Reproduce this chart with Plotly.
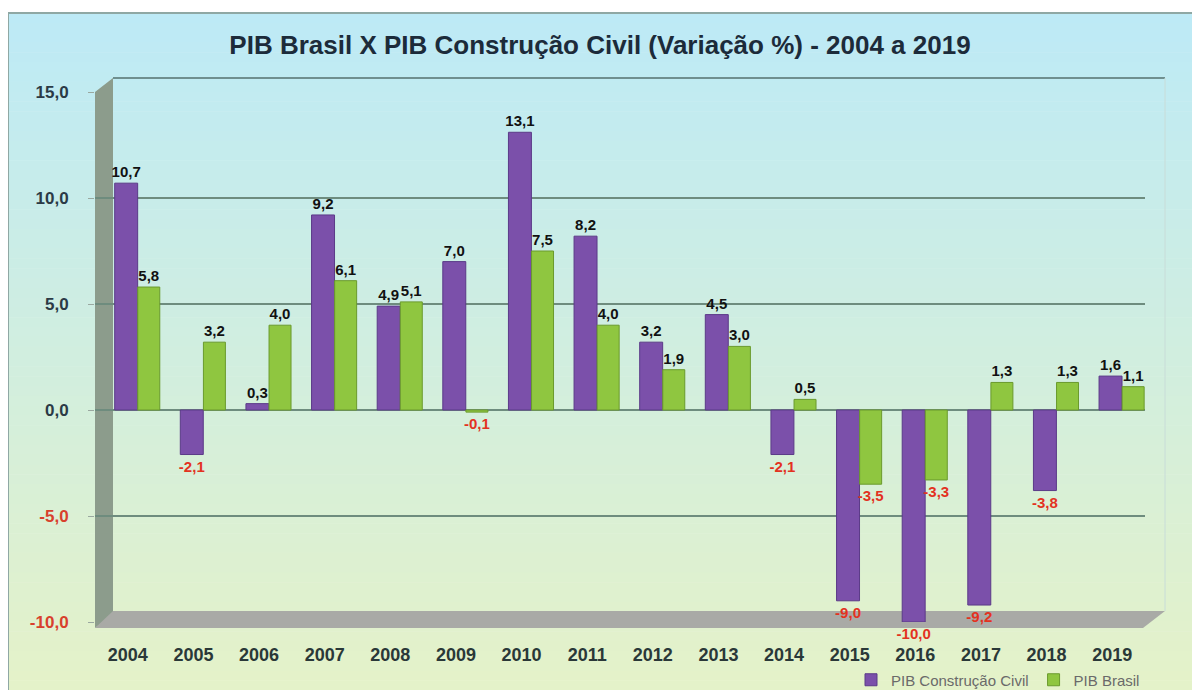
import plotly.graph_objects as go

years = ["2004", "2005", "2006", "2007", "2008", "2009", "2010", "2011",
         "2012", "2013", "2014", "2015", "2016", "2017", "2018", "2019"]
pib_construcao = [10.7, -2.1, 0.3, 9.2, 4.9, 7.0, 13.1, 8.2,
                  3.2, 4.5, -2.1, -9.0, -10.0, -9.2, -3.8, 1.6]
pib_brasil = [5.8, 3.2, 4.0, 6.1, 5.1, -0.1, 7.5, 4.0,
              1.9, 3.0, 0.5, -3.5, -3.3, 1.3, 1.3, 1.1]
y_ticks = [15, 10, 5, 0, -5, -10]

W, H = 1200, 690
OFF = 8  # page body margin in the browser
# target screen positions of plot area
SX0, SX1, SY0, SY1 = 95, 1145, 92, 622
L, R = SX0 - OFF, W - (SX1 - OFF)
T, B = SY0 - OFF, H - (SY1 - OFF)
PW, PH = W - L - R, H - T - B

def px(x):
    return (x - SX0) / PW

def py(y):
    return (SY1 - y) / PH

def fmt(v):
    return f"{v:.1f}".replace(".", ",")

def lab_colors(vals):
    return ["#e3321f" if v < 0 else "#111111" for v in vals]

FONT = "Liberation Sans, Arial, sans-serif"

fig = go.Figure()
fig.add_trace(go.Bar(
    x=years, y=pib_construcao, name="PIB Construção Civil",
    marker=dict(color="#7b50aa", line=dict(color="#5b3a88", width=1)),
    offset=-0.2, width=0.35,
    text=[fmt(v) for v in pib_construcao], textposition="outside",
    textfont=dict(size=15, color=lab_colors(pib_construcao), family=FONT, weight="bold"),
    constraintext="none", cliponaxis=False,
))
fig.add_trace(go.Bar(
    x=years, y=pib_brasil, name="PIB Brasil",
    marker=dict(color="#8fc640", line=dict(color="#6a9a2c", width=1)),
    offset=0.152, width=0.335,
    text=[fmt(v) for v in pib_brasil], textposition="outside",
    textfont=dict(size=15, color=lab_colors(pib_brasil), family=FONT, weight="bold"),
    constraintext="none", cliponaxis=False,
))

# background gradient bands (decoration, paper coords)
shapes = []
top_c = (0xbd, 0xea, 0xf6)
bot_c = (0xe5, 0xf2, 0xc8)
fx0, fx1, fy_top, fy_bot = 8, 1210, 13, 700
n = 70
for i in range(n):
    t = i / (n - 1)
    c = tuple(int(round(top_c[k] + (bot_c[k] - top_c[k]) * t)) for k in range(3))
    y0p = fy_top + (fy_bot - fy_top) * i / n
    y1p = fy_top + (fy_bot - fy_top) * (i + 1) / n + 0.5
    shapes.append(dict(type="rect", xref="paper", yref="paper", layer="below",
                       x0=px(fx0), x1=px(fx1), y0=py(y1p), y1=py(y0p),
                       fillcolor="rgb(%d,%d,%d)" % c, line=dict(width=0)))
# frame border
shapes.append(dict(type="rect", xref="paper", yref="paper", layer="below",
                   x0=px(fx0), x1=px(fx1 + 5), y0=py(fy_bot + 5), y1=py(fy_top),
                   fillcolor="rgba(0,0,0,0)", line=dict(color="#8fa8a4", width=2)))
# left wall
shapes.append(dict(type="path", xref="paper", yref="paper", layer="below",
                   path="M %f %f L %f %f L %f %f L %f %f Z" % (
                       px(95), py(628), px(95), py(92), px(113), py(78), px(113), py(614)),
                   fillcolor="#8c9c8c", line=dict(width=0)))
# floor
shapes.append(dict(type="path", xref="paper", yref="paper", layer="below",
                   path="M %f %f L %f %f L %f %f L %f %f Z" % (
                       px(95), py(628), px(1143), py(628), px(1165), py(611), px(113), py(611)),
                   fillcolor="#a9aaa6", line=dict(width=0)))
# back wall top and right edges
shapes.append(dict(type="line", xref="paper", yref="paper", layer="below",
                   x0=px(113), x1=px(1165), y0=py(78), y1=py(78),
                   line=dict(color="#6f8f8f", width=2)))
shapes.append(dict(type="line", xref="paper", yref="paper", layer="below",
                   x0=px(1165), x1=px(1165), y0=py(611), y1=py(78),
                   line=dict(color="#c8dcd8", width=1)))

ticktext = []
for v in y_ticks:
    if v < 0:
        ticktext.append("<span style='color:#d8402c'>%s</span>" % fmt(v))
    else:
        ticktext.append(fmt(v))

fig.update_layout(
    width=W, height=H,
    margin=dict(l=L, r=R, t=T, b=B, autoexpand=False),
    paper_bgcolor="white", plot_bgcolor="rgba(0,0,0,0)",
    barmode="overlay",
    shapes=shapes,
    font=dict(family=FONT, color="#2b3a46"),
    title=dict(text="PIB Brasil X PIB Construção Civil (Variação %) - 2004 a 2019",
               x=(600 - OFF) / W, xref="container", xanchor="center",
               y=1 - (45 - OFF) / H, yref="container", yanchor="middle",
               font=dict(size=26, family=FONT, color="#1c2b3a", weight="bold")),
    xaxis=dict(type="category", showgrid=False, zeroline=False, showline=False,
               ticks="", ticklabelstandoff=20, automargin=False,
               tickfont=dict(size=18, family=FONT, color="#2a3838", weight="bold")),
    yaxis=dict(range=[-10, 15], tickvals=y_ticks, ticktext=ticktext,
               showgrid=True, gridcolor="#6e8c7e", gridwidth=2,
               zeroline=True, zerolinecolor="#6e8c7e", zerolinewidth=2,
               showline=False, ticks="outside", ticklen=6, tickcolor="#9aa8a0",
               ticklabelstandoff=16, automargin=False,
               tickfont=dict(size=17, family=FONT, color="#2b3a46", weight="bold")),
    legend=dict(orientation="h", x=1.0, xanchor="right", y=py(680), yanchor="middle",
                bgcolor="rgba(0,0,0,0)", itemwidth=30,
                font=dict(size=15, family=FONT, color="#6a6a6a")),
)

fig.write_html("out.html")
